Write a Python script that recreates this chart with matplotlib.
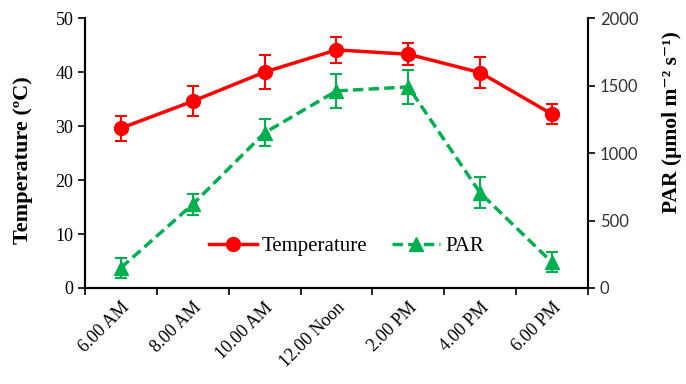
import numpy as np
import matplotlib.pyplot as plt

times = ['6.00 AM', '8.00 AM', '10.00 AM', '12.00 Noon', '2.00 PM', '4.00 PM', '6.00 PM']
temp = [29.6, 34.6, 40.0, 44.1, 43.3, 39.9, 32.2]
temp_err = [2.3, 2.8, 3.2, 2.4, 2.0, 2.8, 1.9]
par = [150, 620, 1150, 1460, 1490, 705, 190]
par_err = [75, 80, 100, 125, 125, 115, 75]

serif = ['Liberation Serif', 'DejaVu Serif']
red = '#FF0000'
green = '#00B050'

fig = plt.figure(figsize=(6.86, 3.84), dpi=100)
ax = fig.add_axes([0.124, 0.25, 0.733, 0.703])
ax2 = ax.twinx()

x = np.arange(len(times))

ax.errorbar(x, temp, yerr=temp_err, fmt='none', ecolor=red, elinewidth=1.5,
            capsize=4, capthick=1.5, zorder=3)
l1, = ax.plot(x, temp, color=red, lw=2.5, marker='o', markersize=10,
              label='Temperature', zorder=4)

ax2.errorbar(x, par, yerr=par_err, fmt='none', ecolor=green, elinewidth=1.5,
             capsize=4, capthick=1.5, zorder=3)
l2, = ax2.plot(x, par, color=green, lw=2.5, ls=(0, (3, 1.5)), marker='^',
               markersize=10, label='PAR', zorder=4)

ax.set_xlim(-0.5, len(times) - 0.5)
ax.set_ylim(0, 50)
ax2.set_ylim(0, 2000)

# ticks sit between categories, labels under the category centres
ax.set_xticks(np.arange(-0.5, len(times), 1))
ax.set_xticklabels([])
ax.set_xticks(x, minor=True)
ax.set_xticklabels(times, minor=True, rotation=45, ha='right',
                   rotation_mode='anchor', fontfamily=serif, fontsize=13)
ax.tick_params(axis='x', which='minor', length=0, pad=8)
ax.tick_params(axis='x', which='major', length=5, width=1.2, direction='out')

ax.set_yticks(np.arange(0, 51, 10))
ax.tick_params(axis='y', length=5, width=1.2, labelsize=13)
for t in ax.get_yticklabels():
    t.set_fontfamily(serif)

ax2.set_yticks(np.arange(0, 2001, 500))
ax2.tick_params(axis='y', length=5, width=1.2, labelsize=12)
for t in ax2.get_yticklabels():
    t.set_fontfamily('Lato')
    t.set_color('#333333')

for a in (ax, ax2):
    a.spines['top'].set_visible(False)
    for s in a.spines.values():
        s.set_linewidth(1.5)
ax.spines['right'].set_visible(False)

ax.set_ylabel('Temperature (ºC)', fontfamily=serif, fontweight='bold', fontsize=16)
ax.yaxis.set_label_coords(-0.103, 0.474)
ax2.set_ylabel('PAR (μmol m⁻² s⁻¹)', fontfamily=serif, fontweight='bold', fontsize=15.5)
ax2.yaxis.set_label_coords(1.147, 0.615)

ax2.legend(handles=[l1, l2], loc='center', bbox_to_anchor=(0.52, 0.155), ncol=2,
           frameon=False, prop={'family': serif, 'size': 15}, handlelength=2.3,
           columnspacing=1.2, handletextpad=0.25)

fig.savefig('out.png', dpi=100)
